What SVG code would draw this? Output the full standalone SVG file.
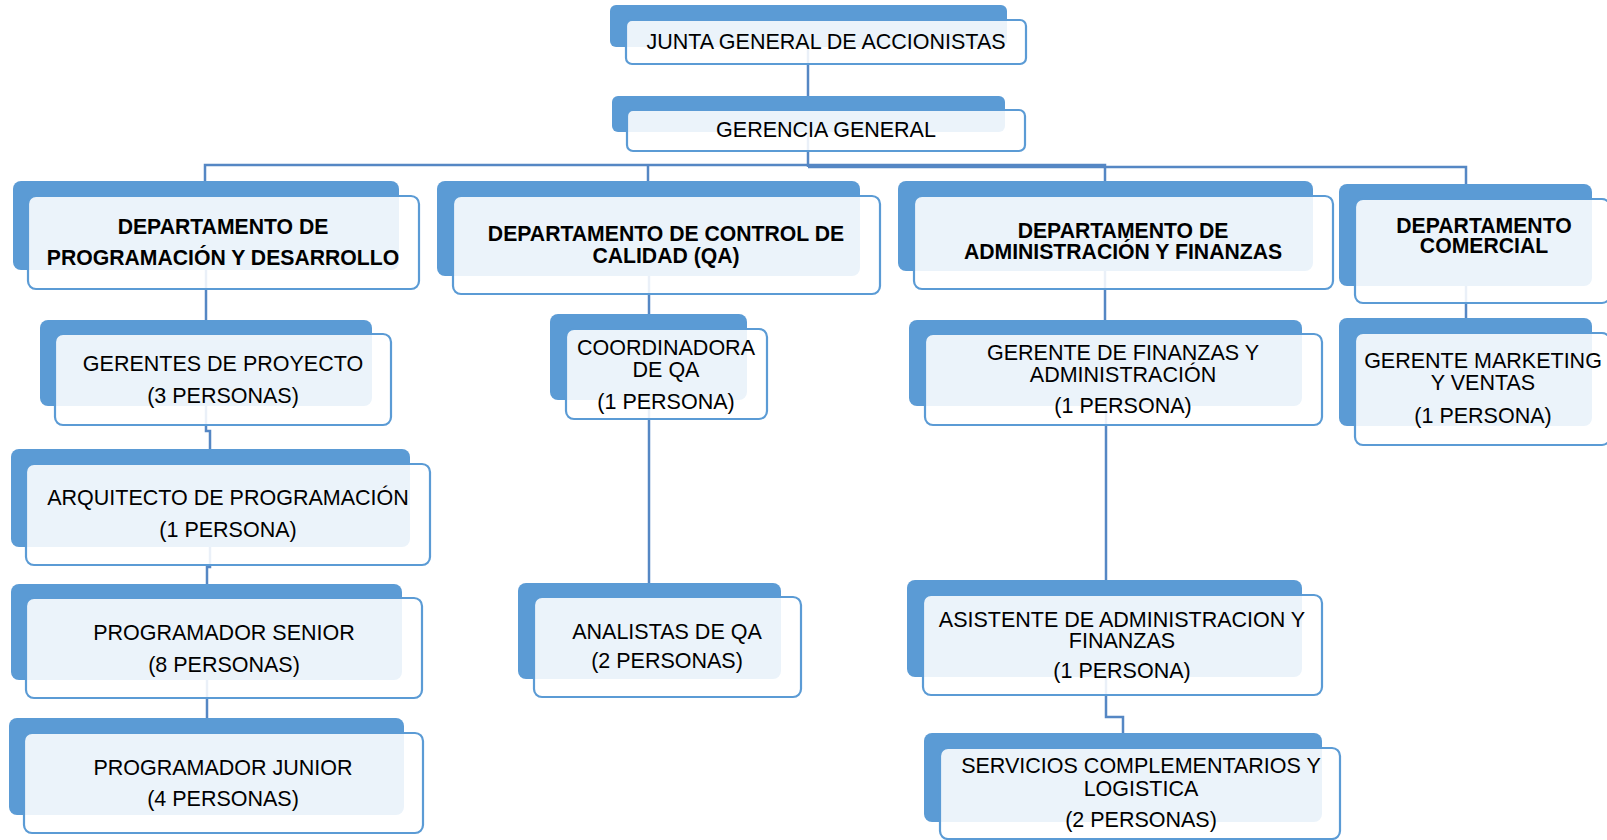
<svg xmlns="http://www.w3.org/2000/svg" width="1607" height="840" viewBox="0 0 1607 840">
<style>
.bk{fill:#5B9BD5;}
.fr{fill:#FFFFFF;fill-opacity:0.88;stroke:#5B9BD5;stroke-width:2.2;}
.t{font-family:"Liberation Sans",Arial,sans-serif;font-size:21.5px;fill:#000;text-anchor:middle;}
.b{font-weight:bold;font-size:21.2px;}
.cn{fill:none;stroke:#5587C4;stroke-width:2.5;}
</style>
<rect width="1607" height="840" fill="#FFFFFF"/>
<g id="connectors">
<path class="cn" d="M808 40 V110"/>
<path class="cn" d="M808 132 V167"/>
<path class="cn" d="M205 181 V165 H1105 V181"/>
<path class="cn" d="M648 165 V181"/>
<path class="cn" d="M808 167 H1466 V184"/>
<path class="cn" d="M206 270 V320"/>
<path class="cn" d="M206 406 V431 H210 V449"/>
<path class="cn" d="M210 547 V567 H207 V584"/>
<path class="cn" d="M207 680 V718"/>
<path class="cn" d="M649 276 V314"/>
<path class="cn" d="M649 400 V583"/>
<path class="cn" d="M1105 271 V320"/>
<path class="cn" d="M1106 406 V580"/>
<path class="cn" d="M1106 677 V717 H1123 V733"/>
<path class="cn" d="M1466 286 V318"/>
</g>
<g id="junta">
<rect class="bk" x="610" y="5" width="397" height="42" rx="6"/>
<rect class="fr" x="626" y="20" width="400" height="44" rx="6"/>
<text class="t" x="826" y="49">JUNTA GENERAL DE ACCIONISTAS</text>
</g>
<g id="gerencia">
<rect class="bk" x="612" y="96" width="393" height="36" rx="6"/>
<rect class="fr" x="627" y="110" width="398" height="41" rx="6"/>
<text class="t" x="826" y="137">GERENCIA GENERAL</text>
</g>
<g id="dept-prog">
<rect class="bk" x="13" y="181" width="386" height="89" rx="8"/>
<rect class="fr" x="28" y="196" width="391" height="93" rx="8"/>
<text class="t b" x="223" y="234">DEPARTAMENTO DE</text>
<text class="t b" x="223" y="265">PROGRAMACIÓN Y DESARROLLO</text>
</g>
<g id="dept-qa">
<rect class="bk" x="437" y="181" width="423" height="95" rx="8"/>
<rect class="fr" x="453" y="196" width="427" height="98" rx="8"/>
<text class="t b" x="666" y="241">DEPARTAMENTO DE CONTROL DE</text>
<text class="t b" x="666" y="263">CALIDAD (QA)</text>
</g>
<g id="dept-admin">
<rect class="bk" x="898" y="181" width="415" height="90" rx="8"/>
<rect class="fr" x="914" y="196" width="419" height="93" rx="8"/>
<text class="t b" x="1123" y="238">DEPARTAMENTO DE</text>
<text class="t b" x="1123" y="259">ADMINISTRACIÓN Y FINANZAS</text>
</g>
<g id="dept-comercial">
<rect class="bk" x="1339" y="184" width="253" height="102" rx="8"/>
<rect class="fr" x="1355" y="199" width="255" height="104" rx="8"/>
<text class="t b" x="1484" y="233">DEPARTAMENTO</text>
<text class="t b" x="1484" y="253">COMERCIAL</text>
</g>
<g id="gerentes-proyecto">
<rect class="bk" x="40" y="320" width="332" height="86" rx="8"/>
<rect class="fr" x="55" y="334" width="336" height="91" rx="8"/>
<text class="t" x="223" y="371">GERENTES DE PROYECTO</text>
<text class="t" x="223" y="403">(3 PERSONAS)</text>
</g>
<g id="arquitecto">
<rect class="bk" x="11" y="449" width="399" height="98" rx="8"/>
<rect class="fr" x="26" y="464" width="404" height="101" rx="8"/>
<text class="t" x="228" y="505">ARQUITECTO DE PROGRAMACIÓN</text>
<text class="t" x="228" y="537">(1 PERSONA)</text>
</g>
<g id="senior">
<rect class="bk" x="11" y="584" width="391" height="96" rx="8"/>
<rect class="fr" x="26" y="598" width="396" height="100" rx="8"/>
<text class="t" x="224" y="640">PROGRAMADOR SENIOR</text>
<text class="t" x="224" y="672">(8 PERSONAS)</text>
</g>
<g id="junior">
<rect class="bk" x="9" y="718" width="395" height="97" rx="8"/>
<rect class="fr" x="24" y="733" width="399" height="100" rx="8"/>
<text class="t" x="223" y="775">PROGRAMADOR JUNIOR</text>
<text class="t" x="223" y="806">(4 PERSONAS)</text>
</g>
<g id="coordinadora">
<rect class="bk" x="550" y="314" width="197" height="86" rx="8"/>
<rect class="fr" x="566" y="329" width="201" height="90" rx="8"/>
<text class="t" x="666" y="355">COORDINADORA</text>
<text class="t" x="666" y="377">DE QA</text>
<text class="t" x="666" y="409">(1 PERSONA)</text>
</g>
<g id="analistas">
<rect class="bk" x="518" y="583" width="263" height="96" rx="8"/>
<rect class="fr" x="534" y="597" width="267" height="100" rx="8"/>
<text class="t" x="667" y="639">ANALISTAS DE QA</text>
<text class="t" x="667" y="668">(2 PERSONAS)</text>
</g>
<g id="gerente-finanzas">
<rect class="bk" x="909" y="320" width="393" height="86" rx="8"/>
<rect class="fr" x="925" y="334" width="397" height="91" rx="8"/>
<text class="t" x="1123" y="360">GERENTE DE FINANZAS Y</text>
<text class="t" x="1123" y="382">ADMINISTRACIÓN</text>
<text class="t" x="1123" y="413">(1 PERSONA)</text>
</g>
<g id="asistente">
<rect class="bk" x="907" y="580" width="395" height="97" rx="8"/>
<rect class="fr" x="923" y="595" width="399" height="100" rx="8"/>
<text class="t" x="1122" y="627">ASISTENTE DE ADMINISTRACION Y</text>
<text class="t" x="1122" y="648">FINANZAS</text>
<text class="t" x="1122" y="678">(1 PERSONA)</text>
</g>
<g id="servicios">
<rect class="bk" x="924" y="733" width="398" height="89" rx="8"/>
<rect class="fr" x="940" y="748" width="400" height="91" rx="8"/>
<text class="t" x="1141" y="773">SERVICIOS COMPLEMENTARIOS Y</text>
<text class="t" x="1141" y="796">LOGISTICA</text>
<text class="t" x="1141" y="827">(2 PERSONAS)</text>
</g>
<g id="marketing">
<rect class="bk" x="1339" y="318" width="253" height="108" rx="8"/>
<rect class="fr" x="1355" y="333" width="255" height="112" rx="8"/>
<text class="t" x="1483" y="368">GERENTE MARKETING</text>
<text class="t" x="1483" y="390">Y VENTAS</text>
<text class="t" x="1483" y="423">(1 PERSONA)</text>
</g>
</svg>
